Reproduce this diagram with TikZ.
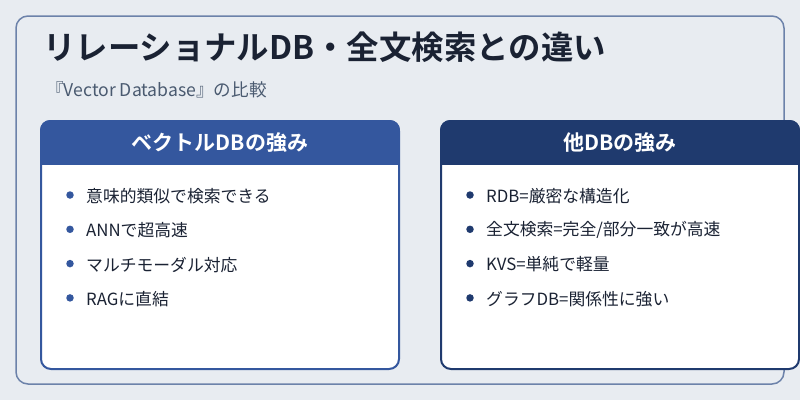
\documentclass[tikz,border=0pt]{standalone}
\usepackage{fontspec}
\setmainfont{Noto Sans CJK JP}
\newfontfamily\jpbold{Noto Sans CJK JP Bold}
\definecolor{bgc}{HTML}{E8ECF1}
\definecolor{framec}{HTML}{6C82AA}
\definecolor{leftc}{HTML}{34579E}
\definecolor{rightc}{HTML}{1F3A6E}
\definecolor{txtc}{HTML}{1A2233}
\definecolor{subc}{HTML}{4A5A70}
\tikzset{
  bullettext/.style={anchor=west, text=txtc, font=\fontsize{16.8}{20}\selectfont, inner sep=0pt},
  dotmark/.style={circle, inner sep=0pt, minimum size=7.5pt},
  headtext/.style={text=white, font=\jpbold\fontsize{21}{25}\selectfont, inner sep=0pt},
}
\begin{document}
\begin{tikzpicture}[x=1pt,y=-1pt]
\useasboundingbox (0,0) rectangle (800,400);
\fill[bgc] (0,0) rectangle (800,400);
\draw[framec, line width=1.5pt, rounded corners=12pt] (16,16) rectangle (784,384);
\node[anchor=west, text=txtc, font=\jpbold\fontsize{32.4}{36}\selectfont, inner sep=0pt] (title) at (43,47) {リレーショナルDB・全文検索との違い};
\node[anchor=west, text=subc, font=\fontsize{17.6}{21}\selectfont, inner sep=0pt] (sub) at (46,90) {『Vector Database』の比較};
% left card
\fill[white, rounded corners=10pt] (41,121) rectangle (399,369);
\begin{scope}
\clip[rounded corners=10pt] (40,120) rectangle (400,370);
\fill[leftc] (40,120) rectangle (400,165);
\end{scope}
\draw[leftc, line width=2pt, rounded corners=10pt] (41,121) rectangle (399,369);
\node[headtext] (lh) at (220,143) {ベクトルDBの強み};
% right card
\fill[white, rounded corners=10pt] (441,121) rectangle (799,369);
\begin{scope}
\clip[rounded corners=10pt] (440,120) rectangle (800,370);
\fill[rightc] (440,120) rectangle (800,165);
\end{scope}
\draw[rightc, line width=2pt, rounded corners=10pt] (441,121) rectangle (799,369);
\node[headtext] (rh) at (620,143) {他DBの強み};
% left bullets
\foreach \t [count=\i] in {意味的類似で検索できる, ANNで超高速, マルチモーダル対応, RAGに直結}{
  \node[dotmark, fill=leftc] (ld\i) at (70,{195+34.3*(\i-1)}) {};
  \node[bullettext] (lt\i) at (86,{196+34.3*(\i-1)}) {\t};
}
% right bullets
\foreach \t [count=\i] in {RDB=厳密な構造化, 全文検索=完全/部分一致が高速, KVS=単純で軽量, グラフDB=関係性に強い}{
  \node[dotmark, fill=rightc] (rd\i) at (470,{195+34.3*(\i-1)}) {};
  \node[bullettext] (rt\i) at (486,{196+34.3*(\i-1)}) {\t};
}
\end{tikzpicture}
\end{document}
